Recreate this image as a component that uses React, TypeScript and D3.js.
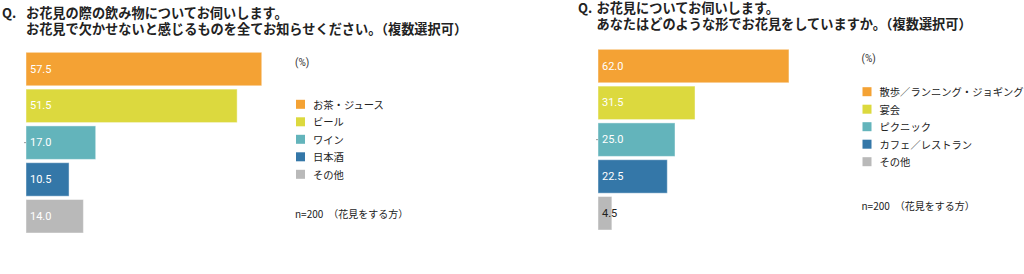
import React from "react";
import * as d3 from "d3";

const colors = ["#F4A234", "#DCD93E", "#63B4BB", "#3477A8", "#B9B9B9"];

const leftTitle = ["お花見の際の飲み物についてお伺いします。", "お花見で欠かせないと感じるものを全てお知らせください。（複数選択可）"];
const leftCategories = ["お茶・ジュース", "ビール", "ワイン", "日本酒", "その他"];
const leftValues = [57.5, 51.5, 17.0, 10.5, 14.0];

const rightTitle = ["お花見についてお伺いします。", "あなたはどのような形でお花見をしていますか。（複数選択可）"];
const rightCategories = ["散歩／ランニング・ジョギング", "宴会", "ピクニック", "カフェ／レストラン", "その他"];
const rightValues = [62.0, 31.5, 25.0, 22.5, 4.5];

const note = "n=200　（花見をする方）";
const unit = "(%)";

const FONT = "'Noto Sans CJK JP', 'Noto Sans', sans-serif";
const NUM_FONT = "Roboto, 'Noto Sans', sans-serif";

type PanelProps = {
  title: string[];
  categories: string[];
  values: number[];
  qx: number;
  tx: number;
  ty: number;
  x0: number;
  pxPerUnit: number;
  y0: number;
  y1: number;
  legendX: number;
  legendY: number;
  unitY: number;
  noteY: number;
};

function Panel(p: PanelProps) {
  const x = d3.scaleLinear().domain([0, 100]).range([p.x0, p.x0 + p.pxPerUnit * 100]);
  const y = d3
    .scaleBand<string>()
    .domain(p.categories)
    .range([p.y0, p.y1])
    .paddingInner(0.09)
    .paddingOuter(0);
  const legendStep = 17.5;
  return (
    <g>
      <text x={p.qx} y={p.ty} fontFamily={FONT} fontWeight={700} fontSize={13} fill="#222" dominantBaseline="central">
        Q.
      </text>
      {p.title.map((t, i) => (
        <text key={i} x={p.tx} y={p.ty + i * 16} fontFamily={FONT} fontWeight={700} fontSize={13.2} fill="#222" dominantBaseline="central">
          {t}
        </text>
      ))}
      {p.categories.map((c, i) => {
        const v = p.values[i];
        const yy = y(c) as number;
        const w = x(v) - x(0);
        return (
          <g key={c}>
            <rect
              x={x(0)}
              y={yy}
              width={w}
              height={y.bandwidth()}
              fill={colors[i]}
              stroke="#ffffff"
              strokeOpacity={0.45}
              strokeWidth={1}
            />
            <text
              x={x(0) + 4}
              y={yy + y.bandwidth() / 2}
              fontFamily={NUM_FONT}
              fontSize={11}
              fill={w < 25 ? "#222" : "#fff"}
              dominantBaseline="central"
            >
              {v.toFixed(1)}
            </text>
          </g>
        );
      })}
      <line x1={x(0) - 2} x2={x(0)} y1={p.y0 + (p.y1 - p.y0) / 2} y2={p.y0 + (p.y1 - p.y0) / 2} stroke="#999" strokeWidth={1} />
      <text x={p.legendX - 1} y={p.unitY} fontFamily={NUM_FONT} fontSize={10} fill="#333" dominantBaseline="central">
        {unit}
      </text>
      {p.categories.map((c, i) => (
        <g key={"l" + c}>
          <rect x={p.legendX} y={p.legendY + i * legendStep - 4.5} width={9} height={9} fill={colors[i]} />
          <text x={p.legendX + 17} y={p.legendY + i * legendStep} fontFamily={FONT} fontSize={10.3} fill="#222" dominantBaseline="central">
            {c}
          </text>
        </g>
      ))}
      <text x={p.legendX - 1} y={p.noteY} fontFamily={FONT} fontSize={10} fill="#222" dominantBaseline="central">
        {note}
      </text>
    </g>
  );
}

export default function App() {
  return (
    <svg
      width={1024}
      height={274}
      viewBox="0 0 1024 274"
      style={{ position: "absolute", left: 0, top: 0, background: "#fff" }}
    >
      <rect x={0} y={0} width={1024} height={274} fill="#fff" />
      <Panel
        title={leftTitle}
        categories={leftCategories}
        values={leftValues}
        qx={2}
        tx={26}
        ty={12.5}
        x0={26}
        pxPerUnit={4.1}
        y0={52.3}
        y1={233}
        legendX={296}
        legendY={104.3}
        unitY={62}
        noteY={213.3}
      />
      <Panel
        title={rightTitle}
        categories={rightCategories}
        values={rightValues}
        qx={578}
        tx={596.5}
        ty={7.5}
        x0={598}
        pxPerUnit={3.08}
        y0={49.3}
        y1={230}
        legendX={862.5}
        legendY={91.7}
        unitY={58.3}
        noteY={205}
      />
    </svg>
  );
}
